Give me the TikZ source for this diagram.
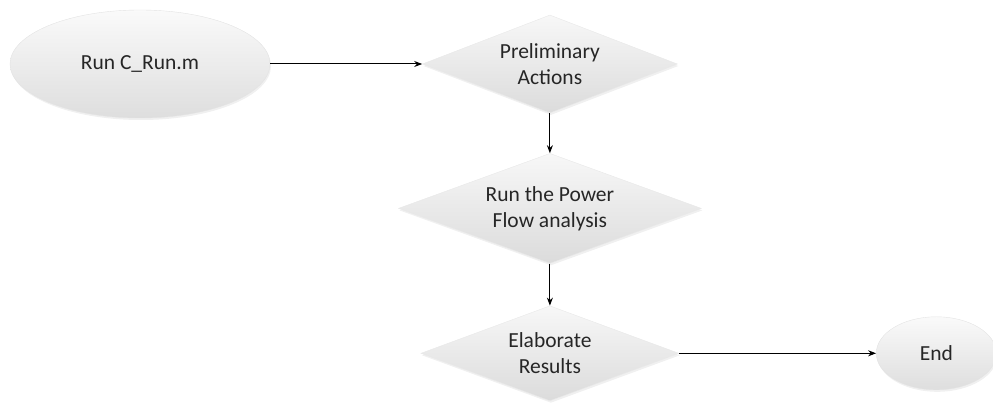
\documentclass[tikz,border=0pt]{standalone}
\usepackage{fontspec}
\setmainfont{Carlito}
\usetikzlibrary{positioning, arrows.meta, shapes.geometric, shadows}

\begin{document}
\begin{tikzpicture}[x=1pt, y=1pt, >={Stealth[length=8pt, width=6pt]},
      terminal/.style={ellipse, draw=gray!22, top color=gray!4, bottom color=gray!26,
        inner sep=0pt, font=\fontsize{21.5}{26}\selectfont, text=black!85,
        drop shadow={opacity=0.12, shadow xshift=1pt, shadow yshift=-2pt}},
      process/.style={diamond, draw=gray!18, top color=gray!6, bottom color=gray!28,
        inner sep=0pt, align=center, font=\fontsize{21.5}{26}\selectfont, text=black!85,
        drop shadow={opacity=0.12, shadow xshift=1pt, shadow yshift=-2pt}},
      flow/.style={->, line width=1pt}]
    \useasboundingbox (0,0) rectangle (993,403);
    \node[terminal, minimum width=260pt, minimum height=108pt] (start) at (140,339) {Run C\_Run.m};
    \node[process, aspect=2.6, minimum width=255pt, minimum height=98pt, right=152pt of start] (prelim) {Preliminary\\Actions};
    \node[process, aspect=2.75, minimum width=303pt, minimum height=110pt, below=40pt of prelim] (power) {Run the Power\\Flow analysis};
    \node[process, aspect=2.7, minimum width=258pt, minimum height=95pt, below=42pt of power] (results) {Elaborate\\Results};
    \node[terminal, minimum width=120pt, minimum height=73pt, right=197pt of results] (stop) {End};
    \draw[flow] (start) -- (prelim);
    \draw[flow] (prelim) -- (power);
    \draw[flow] (power) -- (results);
    \draw[flow] (results) -- (stop);
  \end{tikzpicture}
\end{document}
